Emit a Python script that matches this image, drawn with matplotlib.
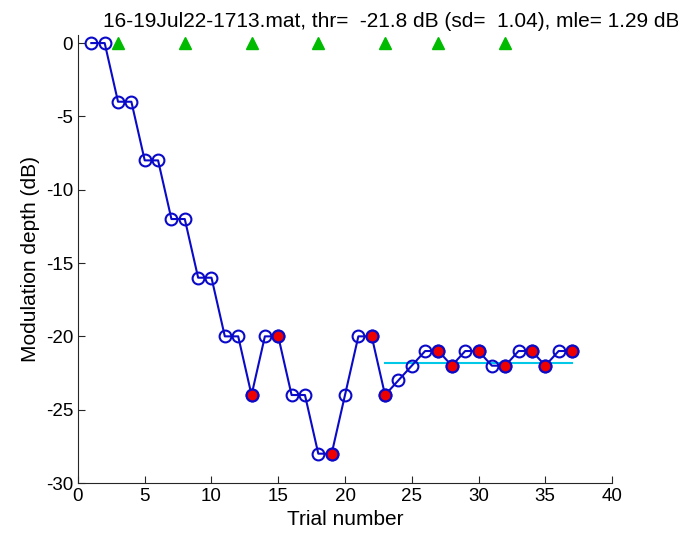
import numpy as np
import matplotlib
matplotlib.use("Agg")
import matplotlib.pyplot as plt

plt.rcParams['font.family'] = ['Liberation Sans', 'DejaVu Sans']
plt.rcParams['axes.unicode_minus'] = False

# trial data
trials = list(range(1, 38))
depth = [0, 0, -4, -4, -8, -8, -12, -12, -16, -16, -20, -20, -24, -20, -20,
         -24, -24, -28, -28, -24, -20, -20, -24, -23, -22, -21, -21, -22,
         -21, -21, -22, -22, -21, -21, -22, -21, -21]
# trials marked as reversals (filled red)
reversals = [13, 15, 19, 22, 23, 27, 28, 30, 32, 34, 35, 37]
# green markers along the top
step_trials = [3, 8, 13, 18, 23, 27, 32]
thr = -21.8
thr_start, thr_end = 23, 37

title = "16-19Jul22-1713.mat, thr=  -21.8 dB (sd=  1.04), mle= 1.29 dB"

fig = plt.figure(figsize=(6.78, 5.41), dpi=100)
ax = fig.add_axes([0.115, 0.1072, 0.7877, 0.8281])

blue = '#0a0ac8'
ax.plot(trials, depth, '-', color=blue, lw=1.5, zorder=2)
ax.plot(trials, depth, 'o', mfc='none', mec=blue, mew=1.5, ms=8.5, zorder=3)
rev_y = [depth[t - 1] for t in reversals]
ax.plot(reversals, rev_y, 'o', mfc='#ee0000', mec=blue, mew=1.5, ms=8.5, zorder=4)
ax.plot([thr_start, thr_end], [thr, thr], '-', color='#00c8e6', lw=1.5, zorder=1)
ax.plot(step_trials, [0] * len(step_trials), '^', color='#00bb00', ms=8,
        zorder=5, clip_on=False)

ax.set_xlim(0, 40)
ax.set_ylim(-30, 0.55)
ax.set_xticks(range(0, 41, 5))
ax.set_yticks(range(-30, 1, 5))
ax.spines['top'].set_visible(False)
ax.spines['right'].set_visible(False)
for s in ['left', 'bottom']:
    ax.spines[s].set_color('#262626')
ax.tick_params(direction='in', length=5, labelsize=13.5, colors='#262626',
               labelcolor='black')
ax.set_xlabel('Trial number', fontsize=15)
ax.set_ylabel('Modulation depth (dB)', fontsize=15)

fig.text(103 / 678, 1 - 27 / 541, title, fontsize=15, va='baseline', ha='left')

fig.savefig('out.png', dpi=100)
